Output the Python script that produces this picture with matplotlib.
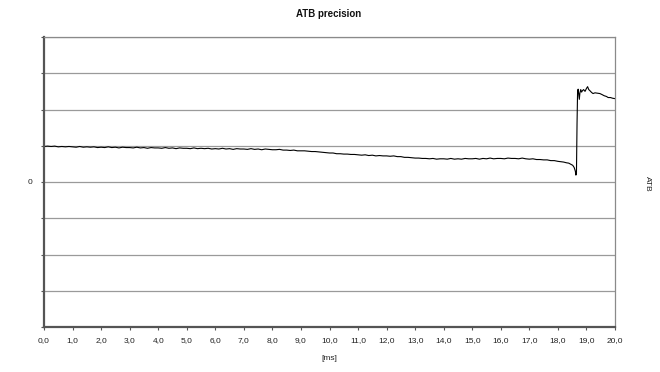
import matplotlib
matplotlib.use("Agg")
import matplotlib.pyplot as plt
from matplotlib.ticker import FuncFormatter, FixedLocator

plt.rcParams['font.family'] = ['Liberation Sans', 'DejaVu Sans']

# time [ms], main part sampled every 0.125 ms, jump region finer
time_ms = [0.0, 0.125, 0.25, 0.375, 0.5, 0.625, 0.75, 0.875,
           1.0, 1.125, 1.25, 1.375, 1.5, 1.625, 1.75, 1.875,
           2.0, 2.125, 2.25, 2.375, 2.5, 2.625, 2.75, 2.875,
           3.0, 3.125, 3.25, 3.375, 3.5, 3.625, 3.75, 3.875,
           4.0, 4.125, 4.25, 4.375, 4.5, 4.625, 4.75, 4.875,
           5.0, 5.125, 5.25, 5.375, 5.5, 5.625, 5.75, 5.875,
           6.0, 6.125, 6.25, 6.375, 6.5, 6.625, 6.75, 6.875,
           7.0, 7.125, 7.25, 7.375, 7.5, 7.625, 7.75, 7.875,
           8.0, 8.125, 8.25, 8.375, 8.5, 8.625, 8.75, 8.875,
           9.0, 9.125, 9.25, 9.375, 9.5, 9.625, 9.75, 9.875,
           10.0, 10.125, 10.25, 10.375, 10.5, 10.625, 10.75, 10.875,
           11.0, 11.125, 11.25, 11.375, 11.5, 11.625, 11.75, 11.875,
           12.0, 12.125, 12.25, 12.375, 12.5, 12.625, 12.75, 12.875,
           13.0, 13.125, 13.25, 13.375, 13.5, 13.625, 13.75, 13.875,
           14.0, 14.125, 14.25, 14.375, 14.5, 14.625, 14.75, 14.875,
           15.0, 15.125, 15.25, 15.375, 15.5, 15.625, 15.75, 15.875,
           16.0, 16.125, 16.25, 16.375, 16.5, 16.625, 16.75, 16.875,
           17.0, 17.125, 17.25, 17.375, 17.5, 17.625, 17.75, 17.875,
           18.0, 18.1, 18.2, 18.3, 18.38, 18.45, 18.52, 18.57, 18.61, 18.63, 18.65, 18.67,
           18.69, 18.71, 18.73, 18.75, 18.77, 18.80, 18.83, 18.86, 18.90, 18.95,
           19.00, 19.04, 19.08, 19.12, 19.18, 19.23, 19.30, 19.38, 19.47, 19.55,
           19.62, 19.70, 19.76, 19.84, 19.92, 20.0]

# ATB value (grid units)
atb = [0.98, 0.99, 0.98, 0.99, 0.97, 0.98, 0.97, 0.98,
       0.97, 0.96, 0.98, 0.96, 0.97, 0.96, 0.97, 0.95,
       0.96, 0.95, 0.97, 0.95, 0.96, 0.94, 0.96, 0.95,
       0.95, 0.94, 0.96, 0.94, 0.95, 0.93, 0.95, 0.94,
       0.94, 0.93, 0.95, 0.93, 0.94, 0.92, 0.94, 0.93,
       0.93, 0.92, 0.94, 0.92, 0.93, 0.92, 0.93, 0.91,
       0.92, 0.91, 0.93, 0.91, 0.92, 0.90, 0.92, 0.91,
       0.91, 0.90, 0.92, 0.90, 0.91, 0.89, 0.91, 0.90,
       0.89, 0.89, 0.90, 0.88, 0.88, 0.87, 0.88, 0.86,
       0.86, 0.86, 0.85, 0.84, 0.84, 0.83, 0.82, 0.81,
       0.80, 0.80, 0.78, 0.78, 0.77, 0.77, 0.76, 0.76,
       0.75, 0.74, 0.75, 0.73, 0.74, 0.72, 0.73, 0.72,
       0.72, 0.71, 0.72, 0.70, 0.70, 0.68, 0.68, 0.67,
       0.66, 0.66, 0.65, 0.65, 0.64, 0.65, 0.63, 0.64,
       0.64, 0.63, 0.65, 0.63, 0.64, 0.63, 0.65, 0.64,
       0.64, 0.65, 0.63, 0.65, 0.64, 0.66, 0.64, 0.65,
       0.65, 0.64, 0.66, 0.65, 0.65, 0.64, 0.66, 0.64,
       0.63, 0.64, 0.62, 0.62, 0.61, 0.61, 0.59, 0.59,
       0.57, 0.56, 0.55, 0.53, 0.52, 0.49, 0.46, 0.40, 0.30, 0.19, 0.25, 1.60,
       2.52, 2.56, 2.42, 2.28, 2.45, 2.55, 2.48, 2.52, 2.55, 2.50,
       2.58, 2.63, 2.55, 2.52, 2.47, 2.44, 2.46, 2.45, 2.44, 2.41,
       2.38, 2.36, 2.33, 2.33, 2.31, 2.30]

x_ticks = list(range(0, 21))
y_ticks = [-4, -3, -2, -1, 0, 1, 2, 3, 4]

fig = plt.figure(figsize=(6.6, 3.72), dpi=100)
ax = fig.add_axes([44/660, 1-327/372, (615-44)/660, (327-37)/372])

ax.plot(time_ms, atb, color='black', lw=0.8)

ax.set_xlim(0, 20)
ax.set_ylim(-4, 4)
ax.xaxis.set_major_locator(FixedLocator(x_ticks))
ax.yaxis.set_major_locator(FixedLocator(y_ticks))
ax.xaxis.set_major_formatter(FuncFormatter(lambda v, p: f"{v:.1f}".replace('.', ',')))
ax.yaxis.set_major_formatter(FuncFormatter(lambda v, p: "0" if abs(v) < 1e-9 else ""))

ax.grid(axis='y', color='#9a9a9a', lw=0.9)
ax.set_axisbelow(True)

for side in ['top', 'right']:
    ax.spines[side].set_color('#8a8a8a')
    ax.spines[side].set_linewidth(0.9)
for side in ['left', 'bottom']:
    ax.spines[side].set_color('#555555')
    ax.spines[side].set_linewidth(1.6)

ax.tick_params(axis='both', length=2.5, width=0.8, color='#555555',
               labelsize=6, labelcolor='#222222')
ax.tick_params(axis='x', pad=5)
ax.tick_params(axis='y', pad=6)

fig.text(329/660, 1-14/372, "ATB precision", ha='center', va='center',
         fontsize=7, fontweight='bold', color='#111111')
fig.text(329/660, 1-358/372, "[ms]", ha='center', va='center',
         fontsize=6, color='#222222')
fig.text(647/660, 1-184/372, "ATB", ha='center', va='center',
         fontsize=6, rotation=270, color='#222222')

fig.savefig("out.png", dpi=100, facecolor='white')
